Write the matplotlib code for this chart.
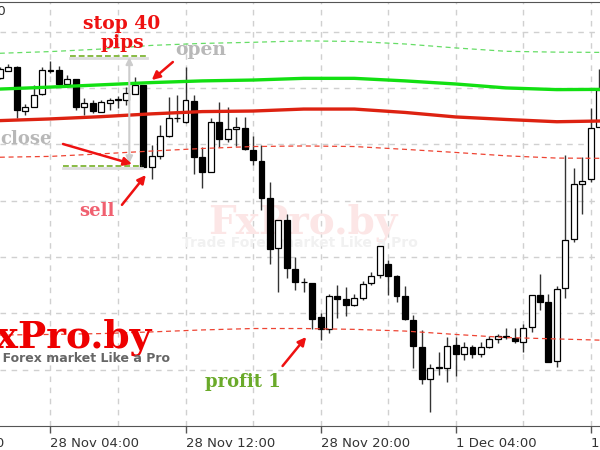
import matplotlib
matplotlib.use("Agg")
import matplotlib.pyplot as plt
import numpy as np

# ================= data =================
# 30-minute candles, index 0 = 28 Nov 04:00 (weekend gap between 39 and 40)
# prices are given in pips above BASE
BASE = 1.2400
PIP = 0.0001

candle_idx = np.arange(-6, 66)

opens = [123.5, 126.1, 127.6, 111.9, 113.1, 117.8, 126.0, 126.4, 121.4, 123.2,
         113.1, 114.8, 111.6, 114.8, 116.0, 115.7, 118.0, 121.1, 91.9, 95.9,
         103.0, 109.2, 108.0, 115.5, 95.4, 90.1, 108.0, 101.9, 105.3, 105.8,
         98.0, 94.2, 80.8, 63.1, 73.1, 55.6, 51.2, 50.7, 38.6, 34.4,
         46.2, 45.0, 43.1, 45.4, 50.6, 53.6, 57.4, 53.1, 46.3, 37.6,
         27.9, 16.7, 20.7, 20.5, 28.8, 25.6, 28.2, 25.5, 28.2, 30.8,
         31.7, 31.4, 29.9, 35.0, 46.5, 44.1, 23.2, 48.9, 66.3, 85.9,
         87.6, 106.0]
highs = [127.4, 128.5, 127.8, 114.3, 121.1, 127.6, 129.7, 127.8, 124.6, 123.2,
         116.3, 115.7, 115.7, 116.5, 117.2, 120.3, 123.9, 121.1, 99.8, 107.0,
         116.8, 117.5, 127.3, 117.5, 98.9, 109.2, 115.0, 113.2, 109.6, 109.7,
         102.8, 99.6, 86.7, 73.1, 75.3, 60.1, 52.4, 50.8, 40.0, 46.9,
         49.9, 49.2, 46.9, 51.5, 54.7, 63.9, 58.8, 53.6, 49.6, 39.4,
         34.1, 22.0, 26.4, 31.7, 31.5, 29.9, 28.8, 29.9, 32.0, 32.8,
         34.9, 34.7, 36.2, 46.5, 53.9, 46.9, 49.7, 96.2, 91.7, 95.4,
         112.8, 126.6]
lows = [123.2, 126.0, 109.2, 110.4, 113.1, 117.5, 125.3, 120.7, 120.5, 112.2,
        110.4, 111.0, 111.5, 112.2, 112.8, 114.0, 117.9, 91.9, 87.6, 94.6,
        102.6, 108.0, 107.7, 89.5, 84.4, 90.1, 99.0, 100.9, 99.4, 97.8,
        92.5, 76.7, 57.5, 47.6, 52.7, 48.3, 47.7, 34.4, 30.4, 33.0,
        38.3, 39.2, 42.6, 44.7, 50.1, 52.5, 46.5, 44.1, 37.6, 20.5,
        14.9, 4.9, 18.1, 15.7, 17.8, 23.4, 24.0, 24.6, 27.6, 29.4,
        30.9, 29.4, 26.4, 33.5, 41.2, 22.8, 21.1, 45.3, 65.4, 75.3,
        86.7, 106.0]
closes = [126.7, 127.6, 112.2, 113.4, 117.5, 126.4, 126.2, 121.4, 123.2, 113.1,
          114.8, 111.9, 115.0, 115.7, 115.8, 118.2, 120.9, 91.9, 95.7, 103.1,
          109.3, 109.3, 115.6, 95.5, 90.3, 108.0, 102.0, 105.3, 106.0, 98.3,
          94.4, 80.9, 62.7, 73.1, 56.0, 51.2, 51.1, 38.0, 34.4, 46.2,
          45.0, 43.0, 45.3, 50.3, 53.4, 63.8, 53.3, 46.3, 37.9, 28.4,
          16.7, 20.5, 20.8, 28.5, 25.6, 28.2, 25.5, 27.9, 30.8, 32.1,
          31.8, 30.2, 34.7, 46.5, 44.1, 22.8, 48.5, 66.0, 85.9, 87.1,
          105.7, 119.3]

# indicator lines, sampled every 6 candles
ma_idx = [-6, 0, 6, 12, 18, 24, 30, 36, 42, 48, 54, 60, 66]
ma_fast = [119.6, 120.3, 121.1, 121.9, 122.5, 122.8, 123.4, 123.4, 122.5, 121.4, 120.0, 119.4, 119.5]
ma_slow = [108.4, 109.0, 109.8, 110.8, 111.6, 111.8, 112.5, 112.5, 111.3, 109.7, 108.8, 108.0, 108.3]
band_upper = [132.3, 132.9, 133.8, 135.1, 135.8, 136.2, 136.7, 136.5, 135.6, 134.2, 133.0, 132.7, 132.6]
band_mid = [95.4, 95.7, 96.6, 97.6, 98.5, 99.2, 99.4, 99.2, 98.2, 97.1, 95.9, 95.1, 95.0]
band_lower = [32.3, 32.5, 32.8, 33.4, 34.1, 34.6, 34.6, 34.3, 33.7, 32.5, 31.4, 30.9, 30.4]

tick_idx = [-16, 0, 16, 32, 48, 64]
tick_labels = ["27 Nov 20:00", "28 Nov 04:00", "28 Nov 12:00",
               "28 Nov 20:00", "1 Dec 04:00", "1 Dec 12:00"]

# trade levels (pips above BASE)
stop_level = 131.4
close_level = 92.3
# ========================================


def pr(v):
    return BASE + np.asarray(v, dtype=float) * PIP


o, h, l, c = pr(opens), pr(highs), pr(lows), pr(closes)

fig = plt.figure(figsize=(6, 4.5), dpi=100)
ax = fig.add_axes([0, 24 / 450, 1, 424 / 450])

# grid
for gx in range(-8, 72, 8):
    ax.axvline(gx, color="#d0d0d0", lw=1, ls=(0, (4, 4)), zorder=0)
for gy in range(20, 150, 20):
    ax.axhline(pr(gy), color="#d0d0d0", lw=1, ls=(0, (4, 4)), zorder=0)

# faint watermark in the middle
ax.text(29.9, pr(68.5), "FxPro.by", ha="center", va="baseline", fontsize=28,
        family="DejaVu Serif", weight="bold", color="#fce6e6", zorder=0.5)
ax.text(29.6, pr(64.8), "Trade Forex market Like a Pro", ha="center", va="center",
        fontsize=10, weight="bold", color="#f1f1f1", zorder=0.5)

# candles
up = c >= o
ax.vlines(candle_idx, l, h, color="#333333", lw=1, zorder=3)
body_lo = np.minimum(o, c)
body_h = np.maximum(np.abs(c - o), 0.15 * PIP)
ax.bar(candle_idx, body_h, bottom=body_lo, width=0.7,
       color=np.where(up, "white", "black"), edgecolor="black", lw=0.9, zorder=4)

# indicators
ax.plot(ma_idx, pr(band_upper), color="#66dd66", lw=0.9, ls=(0, (4, 3)), zorder=5)
ax.plot(ma_idx, pr(band_mid), color="#ee4433", lw=0.9, ls=(0, (4, 3)), zorder=5)
ax.plot(ma_idx, pr(band_lower), color="#ee4433", lw=0.9, ls=(0, (4, 3)), zorder=5)
ax.plot(ma_idx, pr(ma_fast), color="#12e012", lw=2.4, zorder=5)
ax.plot(ma_idx, pr(ma_slow), color="#dd2211", lw=2.4, zorder=5)

# logo on the left (partly outside the picture)
ax.text(12.0, pr(28.0), "FxPro.by", ha="right", va="baseline", fontsize=27,
        family="DejaVu Serif", weight="bold", color="#ee0000", zorder=6)
ax.text(14.2, pr(24.1), "Trade Forex market Like a Pro", ha="right", va="center",
        fontsize=9, weight="bold", color="#666666", zorder=6)

# trade levels
ax.plot([2.3, 11.4], pr([stop_level - 0.8] * 2), color="#dddddd", lw=2, zorder=6)
ax.plot([2.3, 11.4], pr([stop_level] * 2), color="#88bb44", lw=1.4, ls=(0, (3, 1.5)), zorder=6)
ax.plot([1.5, 10.9], pr([close_level - 0.8] * 2), color="#dddddd", lw=2, zorder=6)
ax.plot([1.5, 10.9], pr([close_level] * 2), color="#88bb44", lw=1.4, ls=(0, (3, 1.5)), zorder=6)
ax.annotate("", xy=(9.34, pr(close_level + 1)), xytext=(9.34, pr(stop_level - 0.5)),
            arrowprops=dict(arrowstyle="<|-|>", color="#cccccc", lw=1.5,
                            mutation_scale=10, shrinkA=0, shrinkB=0), zorder=7)

# labels and arrows
red = "#ee1111"
aprops = dict(arrowstyle="-|>", color=red, lw=1.8, mutation_scale=12, shrinkA=0, shrinkB=0)
txt = dict(family="DejaVu Serif", weight="bold", zorder=8)

ax.text(8.47, pr(139.4), "stop 40\npips", ha="center", va="center", fontsize=13.5,
        color=red, linespacing=1.1, **txt)
ax.text(17.8, pr(133.5), "open", ha="center", va="center", fontsize=13.5, color="#b8b8b8", **txt)
ax.text(-5.98, pr(101.9), "close", ha="left", va="center", fontsize=13, color="#b8b8b8", **txt)
ax.text(5.5, pr(76.3), "sell", ha="center", va="center", fontsize=13, color="#f06070", **txt)
ax.text(22.8, pr(15.6), "profit 1", ha="center", va="center", fontsize=13, color="#6aaa2a", **txt)

ax.annotate("", xy=(12.0, pr(122.8)), xytext=(14.5, pr(129.2)), arrowprops=aprops, zorder=8)
ax.annotate("", xy=(9.66, pr(93.0)), xytext=(1.48, pr(100.1)), arrowprops=aprops, zorder=8)
ax.annotate("", xy=(11.3, pr(89.1)), xytext=(8.47, pr(78.5)), arrowprops=aprops, zorder=8)
ax.annotate("", xy=(30.3, pr(31.6)), xytext=(27.5, pr(21.3)), arrowprops=aprops, zorder=8)

# axes styling
ax.set_yticks([])
ax.set_xticks(tick_idx)
ax.set_xticklabels(tick_labels, fontsize=9.5, color="#333333")
for lbl in ax.get_xticklabels():
    lbl.set_ha("left")
ax.tick_params(axis="x", length=5, width=1, color="#555555", pad=3)
ax.spines["left"].set_visible(False)
ax.spines["right"].set_visible(False)
ax.spines["top"].set_color("#555555")
ax.spines["bottom"].set_color("#555555")
# limits last, set_xticks would widen them
ax.set_xlim(-5.98, 65.11)
ax.set_ylim(pr(0), pr(150.5))

# ticks left of the view are not drawn, so the first label is added by hand
ax.annotate(tick_labels[0], xy=(tick_idx[0], 0), xycoords=("data", "axes fraction"),
            xytext=(0, -8), textcoords="offset points", ha="left", va="top",
            fontsize=9.5, color="#333333", annotation_clip=False)

fig.text(6 / 600, 1 - 12 / 450, "EURUSD, M30", ha="right", va="center",
         fontsize=9.5, color="#333333")

fig.savefig("out.png", dpi=100)
